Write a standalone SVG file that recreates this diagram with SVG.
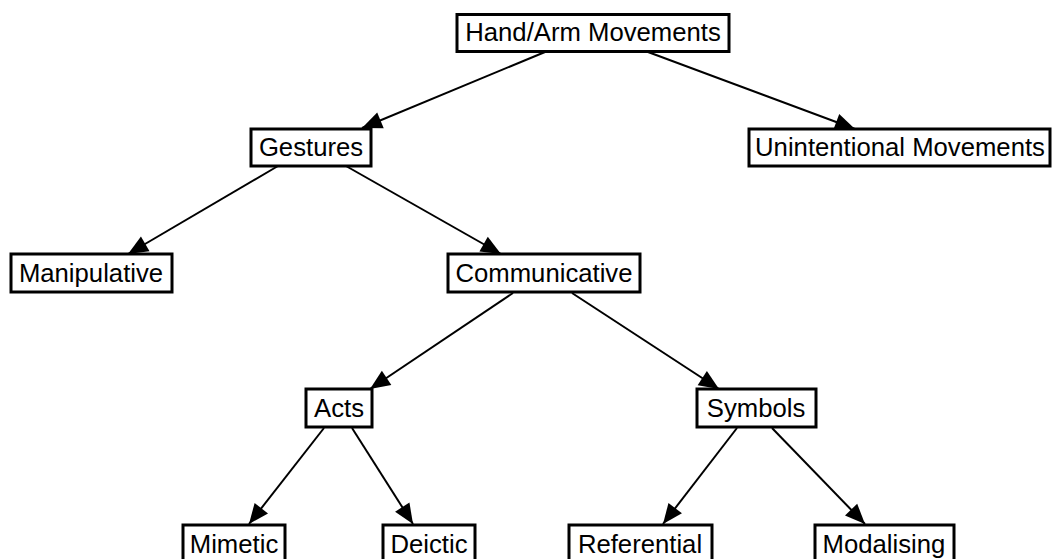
<svg xmlns="http://www.w3.org/2000/svg" width="1054" height="559" viewBox="0 0 1054 559">
  <style>
    .box { fill: #ffffff; stroke: #000000; stroke-width: 3; }
    .lbl { font-family: "Liberation Sans", Arial, sans-serif; font-size: 25.7px; fill: #000000; text-anchor: middle; }
    .edge { stroke: #000000; stroke-width: 2; fill: none; marker-end: url(#arrow); }
  </style>
  <defs>
    <marker id="arrow" markerUnits="userSpaceOnUse" markerWidth="22" markerHeight="20" viewBox="0 0 22 20" refX="21" refY="10" orient="auto">
      <path d="M1,1.5 L21,10 L1,18.5 z" fill="#000000"/>
    </marker>
  </defs>
  <rect width="1054" height="559" fill="#ffffff"/>

  <!-- connectors -->
  <g id="connectors">
    <line class="edge" x1="545" y1="52" x2="362" y2="128"/>
    <line class="edge" x1="648" y1="52" x2="855" y2="129"/>
    <line class="edge" x1="278" y1="166" x2="128" y2="254"/>
    <line class="edge" x1="346" y1="166" x2="501" y2="254"/>
    <line class="edge" x1="513" y1="293" x2="370" y2="389"/>
    <line class="edge" x1="572" y1="293" x2="719" y2="389"/>
    <line class="edge" x1="324" y1="428" x2="249" y2="524"/>
    <line class="edge" x1="352" y1="428" x2="413" y2="524"/>
    <line class="edge" x1="737" y1="428" x2="663" y2="524"/>
    <line class="edge" x1="772" y1="428" x2="865" y2="524"/>
  </g>

  <g id="hand-arm">
    <rect class="box" x="457" y="14.5" width="272" height="37"/>
    <text class="lbl" x="593" y="41">Hand/Arm Movements</text>
  </g>
  <g id="gestures">
    <rect class="box" x="251" y="129" width="120" height="37"/>
    <text class="lbl" x="311" y="156">Gestures</text>
  </g>
  <g id="unintentional">
    <rect class="box" x="749" y="129" width="301" height="37"/>
    <text class="lbl" x="900" y="156">Unintentional Movements</text>
  </g>
  <g id="manipulative">
    <rect class="box" x="11" y="254" width="161" height="38"/>
    <text class="lbl" x="91" y="282">Manipulative</text>
  </g>
  <g id="communicative">
    <rect class="box" x="448" y="254" width="192" height="38"/>
    <text class="lbl" x="544" y="282">Communicative</text>
  </g>
  <g id="acts">
    <rect class="box" x="306" y="389" width="66" height="38"/>
    <text class="lbl" x="339" y="417">Acts</text>
  </g>
  <g id="symbols">
    <rect class="box" x="697" y="389" width="119" height="38"/>
    <text class="lbl" x="756" y="417">Symbols</text>
  </g>
  <g id="mimetic">
    <rect class="box" x="183" y="525" width="102" height="39"/>
    <text class="lbl" x="234" y="553">Mimetic</text>
  </g>
  <g id="deictic">
    <rect class="box" x="383" y="525" width="92" height="39"/>
    <text class="lbl" x="429" y="553">Deictic</text>
  </g>
  <g id="referential">
    <rect class="box" x="569" y="525" width="143" height="39"/>
    <text class="lbl" x="640" y="553">Referential</text>
  </g>
  <g id="modalising">
    <rect class="box" x="815" y="525" width="139" height="39"/>
    <text class="lbl" x="884" y="553">Modalising</text>
  </g>
</svg>
